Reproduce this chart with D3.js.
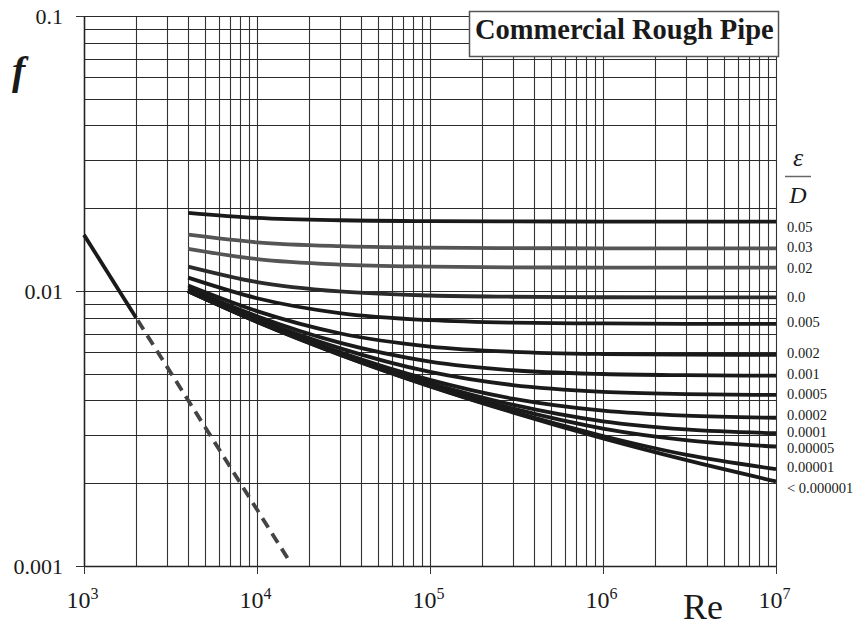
<!DOCTYPE html>
<html lang="en">
<head>
<meta charset="UTF-8">
<title>Commercial Rough Pipe</title>
<script src="https://d3js.org/d3.v7.min.js"></script>
<style>
  body { margin: 0; background: #fff; }
  text { font-family: "Liberation Serif", "Times New Roman", serif; fill: #1a1a1a; }
</style>
</head>
<body>
<div id="chart"></div>
<script>
// Reynolds numbers where each roughness curve was read off
var reSample = [4000, 1e4, 3e4, 1e5, 3e5, 1e6, 3e6, 1e7];

// relative roughness labels, top curve first
var roughLabels = ["0.05", "0.03", "0.02", "0.0", "0.005", "0.002", "0.001",
                   "0.0005", "0.0002", "0.0001", "0.00005", "0.00001", "< 0.000001"];

// friction factor f along reSample, one list per curve
var f005     = [0.01925, 0.01845, 0.01808, 0.01795, 0.01791, 0.01789, 0.01789, 0.01789];
var f003     = [0.01602, 0.01503, 0.01455, 0.01437, 0.01432, 0.01430, 0.01430, 0.01429];
var f002     = [0.01424, 0.01307, 0.01248, 0.01226, 0.01219, 0.01217, 0.01216, 0.01216];
var f001     = [0.01227, 0.01078, 0.00996, 0.00963, 0.00953, 0.00949, 0.00948, 0.00948];
var f0005    = [0.01118, 0.00941, 0.00831, 0.00783, 0.00767, 0.00762, 0.00760, 0.00760];
var f0002    = [0.01047, 0.00845, 0.00702, 0.00628, 0.00601, 0.00590, 0.00587, 0.00586];
var f0001    = [0.01023, 0.00810, 0.00649, 0.00554, 0.00515, 0.00499, 0.00494, 0.00492];
var f00005   = [0.01010, 0.00791, 0.00620, 0.00508, 0.00455, 0.00430, 0.00422, 0.00419];
var f00002   = [0.01003, 0.00780, 0.00600, 0.00475, 0.00406, 0.00367, 0.00352, 0.00346];
var f00001   = [0.01000, 0.00776, 0.00594, 0.00463, 0.00386, 0.00336, 0.00314, 0.00304];
var f000005  = [0.00999, 0.00774, 0.00591, 0.00456, 0.00374, 0.00316, 0.00287, 0.00272];
var f000001  = [0.00998, 0.00773, 0.00588, 0.00451, 0.00364, 0.00297, 0.00254, 0.00225];
var fSmooth  = [0.00998, 0.00772, 0.00587, 0.00450, 0.00362, 0.00291, 0.00243, 0.00203];

var roughCurves = [f005, f003, f002, f001, f0005, f0002, f0001,
                   f00005, f00002, f00001, f000005, f000001, fSmooth];

// laminar line: solid part then dashed continuation
var lamRe = [1000, 2000];
var lamF = [0.016, 0.008];
var lamDashRe = [2000, 15000];
var lamDashF = [0.008, 0.00107];

var reTicks = [1e3, 1e4, 1e5, 1e6, 1e7];
var reExp = ["3", "4", "5", "6", "7"];
var fTicks = [0.001, 0.01, 0.1];
var fTickLabels = ["0.001", "0.01", "0.1"];

// styling kept apart from the values
var curveColors = ["#1a1a1a", "#555", "#555", "#2b2b2b", "#1a1a1a", "#1a1a1a", "#1a1a1a",
                   "#1a1a1a", "#1a1a1a", "#1a1a1a", "#1a1a1a", "#1a1a1a", "#1a1a1a"];
var labelNudge = [5, -1, 0, 0, -2, -2, -2, -1, -3, -1.5, 1, -2, 6];

var margin = {top: 16, right: 86, bottom: 61, left: 84},
    width = 862 - margin.left - margin.right,
    height = 627 - margin.top - margin.bottom;

var svgRoot = d3.select("#chart").append("svg")
    .attr("width", 862)
    .attr("height", 627);

var svg = svgRoot.append("g")
    .attr("transform", "translate(" + margin.left + "," + margin.top + ")");

var x = d3.scaleLog().domain([1e3, 1e7]).range([0, width]);
var y = d3.scaleLog().domain([0.001, 0.1]).range([height, 0]);

// grid
svg.append("g").selectAll("line.v")
    .data(x.ticks())
    .enter().append("line")
    .attr("x1", function(d) { return Math.round(x(d)) + 0.5; })
    .attr("x2", function(d) { return Math.round(x(d)) + 0.5; })
    .attr("y1", 0).attr("y2", height)
    .attr("stroke", "#333").attr("stroke-width", 1.1);

svg.append("g").selectAll("line.h")
    .data(y.ticks())
    .enter().append("line")
    .attr("y1", function(d) { return Math.round(y(d)) + 0.5; })
    .attr("y2", function(d) { return Math.round(y(d)) + 0.5; })
    .attr("x1", 0).attr("x2", width)
    .attr("stroke", "#2a2a2a").attr("stroke-width", 1.1);

// axes
var yAxis = svg.append("g")
    .call(d3.axisLeft(y).tickValues(fTicks).tickSize(8).tickSizeOuter(0).tickPadding(13)
        .tickFormat(function(d, i) { return fTickLabels[i]; }));
yAxis.selectAll("line").attr("stroke", "#333");
yAxis.select(".domain").attr("stroke", "#222").attr("stroke-width", 1.5);
yAxis.selectAll("text").style("font-size", "22px").attr("dy", "0.35em")
    .style("font-family", "Liberation Serif").attr("fill", "#1a1a1a");

var xAxis = svg.append("g")
    .attr("transform", "translate(0," + height + ")")
    .call(d3.axisBottom(x).tickValues(reTicks).tickSize(8).tickSizeOuter(0).tickPadding(12)
        .tickFormat(""));
xAxis.selectAll("line").attr("stroke", "#333");
xAxis.select(".domain").attr("stroke", "#222").attr("stroke-width", 1.5);
xAxis.selectAll(".tick text").each(function(d, i) {
    var t = d3.select(this)
        .style("font-size", "24px").style("font-family", "Liberation Serif")
        .attr("fill", "#1a1a1a").attr("dy", "0.9em")
        .attr("x", -2);
    t.append("tspan").text("10");
    t.append("tspan").attr("dy", "-0.55em").style("font-size", "16px").text(reExp[i]);
});

// roughness curves
var line = d3.line()
    .x(function(d) { return x(d[0]); })
    .y(function(d) { return y(d[1]); })
    .curve(d3.curveMonotoneX);

roughCurves.forEach(function(vals, i) {
    var pts = reSample.map(function(re, j) { return [re, vals[j]]; });
    svg.append("path")
        .datum(pts)
        .attr("d", line)
        .attr("fill", "none")
        .attr("stroke", curveColors[i])
        .attr("stroke-width", 3.8)
        .attr("stroke-linecap", "butt");
});

// laminar
svg.append("path")
    .datum(lamRe.map(function(re, j) { return [re, lamF[j]]; }))
    .attr("d", d3.line().x(function(d) { return x(d[0]); }).y(function(d) { return y(d[1]); }))
    .attr("fill", "none").attr("stroke", "#1a1a1a").attr("stroke-width", 3.8);

svg.append("path")
    .datum(lamDashRe.map(function(re, j) { return [re, lamDashF[j]]; }))
    .attr("d", d3.line().x(function(d) { return x(d[0]); }).y(function(d) { return y(d[1]); }))
    .attr("fill", "none").attr("stroke", "#444").attr("stroke-width", 3.8)
    .attr("stroke-dasharray", "11,7").attr("stroke-dashoffset", -3);

// curve labels on the right
svg.append("g").selectAll("text")
    .data(roughLabels)
    .enter().append("text")
    .attr("x", width + 11)
    .attr("y", function(d, i) { var v = roughCurves[i]; return y(v[v.length - 1]) + labelNudge[i]; })
    .attr("dy", "0.35em")
    .style("font-size", "14.5px")
    .text(function(d) { return d; });

// epsilon / D heading
svgRoot.append("text")
    .attr("x", 798).attr("y", 166)
    .attr("text-anchor", "middle")
    .style("font-size", "26px").style("font-style", "italic")
    .text("\u03b5");
svgRoot.append("line")
    .attr("x1", 785).attr("x2", 811).attr("y1", 176.5).attr("y2", 176.5)
    .attr("stroke", "#666").attr("stroke-width", 1.5);
svgRoot.append("text")
    .attr("x", 798).attr("y", 203)
    .attr("text-anchor", "middle")
    .style("font-size", "24px").style("font-style", "italic")
    .text("D");

// title box
svgRoot.append("rect")
    .attr("x", 469.5).attr("y", 11.5).attr("width", 309).attr("height", 45)
    .attr("fill", "#fff").attr("stroke", "#555").attr("stroke-width", 1.5);
svgRoot.append("text")
    .attr("x", 475).attr("y", 39)
    .style("font-size", "28.5px").style("font-weight", "bold")
    .text("Commercial Rough Pipe");

// axis titles
svgRoot.append("text")
    .attr("x", 12).attr("y", 84)
    .style("font-size", "40px").style("font-weight", "bold").style("font-style", "italic")
    .text("f");

svgRoot.append("text")
    .attr("x", 683).attr("y", 619)
    .style("font-size", "36px")
    .text("Re");
</script>
</body>
</html>
